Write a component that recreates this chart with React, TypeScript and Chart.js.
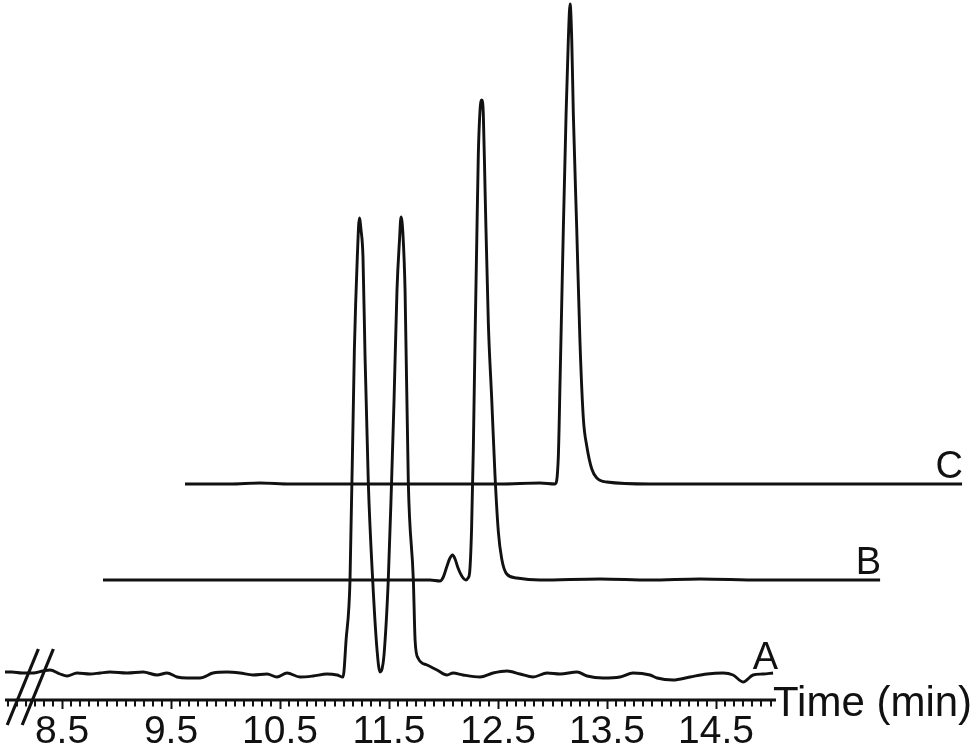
import React, { useEffect, useRef } from 'react';
import { Chart, registerables } from 'chart.js';

Chart.register(...registerables);

// ---- data (time in min, detector signal in arbitrary units) ----
const TRACE_NAMES = ['A', 'B', 'C'];

const TRACE_A: [number, number][] = [
  [7.977, 3], [8.041, 3], [8.133, 2], [8.234, 2], [8.326, 4], [8.39, 5], [8.482, 1], [8.546, -1],
  [8.638, 2], [8.757, 1], [8.849, 2], [8.94, 3], [9.096, 2], [9.243, 3], [9.372, 0], [9.463, 2],
  [9.555, -2], [9.647, -3], [9.766, -3], [9.885, 2], [10.014, 3], [10.133, 2], [10.252, 0],
  [10.381, 1], [10.472, -2], [10.564, 2], [10.683, -2], [10.803, -1], [10.931, 1], [11.023, 0],
  [11.078, -2], [11.106, 35], [11.142, 95], [11.182, 325], [11.209, 418], [11.228, 457],
  [11.243, 445], [11.261, 418], [11.28, 318], [11.31, 192], [11.35, 95], [11.39, 25], [11.417, 3],
  [11.436, 6], [11.454, 20], [11.493, 95], [11.523, 192], [11.546, 275], [11.573, 385],
  [11.596, 435], [11.61, 458], [11.628, 440], [11.647, 385], [11.677, 192], [11.723, 95],
  [11.739, 35], [11.766, 17], [11.849, 10], [11.94, 5], [12.032, 0], [12.087, 2], [12.179, 0],
  [12.335, -2], [12.454, 2], [12.583, 4], [12.702, 1], [12.821, -2], [12.95, 2], [13.069, 1],
  [13.225, 3], [13.317, -1], [13.463, -3], [13.619, -2], [13.739, 2], [13.894, 0], [13.959, -3],
  [14.106, -5], [14.261, -2], [14.417, 1], [14.564, 2], [14.656, 0], [14.748, -7], [14.839, 0],
  [14.931, 1], [15.023, 2],
];

const TRACE_B: [number, number][] = [
  [8.876, 0], [9.5, 0], [10.2, 0], [10.9, 0], [11.5, 0], [11.876, 0], [11.968, -1], [11.998, 3],
  [12.029, 13], [12.055, 21], [12.083, 25], [12.106, 21], [12.133, 12], [12.167, 4], [12.206, 0],
  [12.225, 2], [12.239, 7], [12.257, 50], [12.273, 130], [12.289, 240], [12.305, 340],
  [12.319, 425], [12.335, 470], [12.35, 480], [12.365, 466], [12.381, 390], [12.411, 257],
  [12.442, 181], [12.472, 105], [12.503, 48], [12.534, 21], [12.58, 6], [12.672, 2], [12.885, 0],
  [13.436, 1], [13.894, 0], [14.353, 1], [14.904, 0], [15.454, 0], [16.005, 0],
];

const TRACE_C: [number, number][] = [
  [9.628, 0], [10.041, 0], [10.317, 1], [10.592, 0], [11.142, 0], [11.784, 0], [12.518, 0],
  [12.885, 1], [13.023, 0], [13.053, 27], [13.069, 103], [13.084, 179], [13.099, 255],
  [13.124, 369], [13.145, 445], [13.161, 480], [13.176, 445], [13.191, 369], [13.222, 255],
  [13.252, 141], [13.283, 65], [13.314, 38], [13.36, 15], [13.406, 6], [13.498, 2], [13.894, 0],
  [14.812, 0], [15.729, 0], [16.757, 0],
];

// vertical stacking offsets of the three chromatograms
const TRACE_OFFSETS = [25, 120, 216];

const TICK_VALUES = [8.5, 9.5, 10.5, 11.5, 12.5, 13.5, 14.5];
const TICK_LABELS = ['8.5', '9.5', '10.5', '11.5', '12.5', '13.5', '14.5'];
const AXIS_TITLE = 'Time (min)';

// ---- layout / style ----
const X_MIN = 7.931;
const X_MAX = 16.894;
const Y_MIN = 0;
const Y_MAX = 700;
const AXIS_START = 7.977;
const AXIS_END = 15.05;
const MINOR_FIRST = 8.0;
const MINOR_LAST = 15.0;
const MINOR_PER_MIN = 12;
const BREAK_AT = 8.16;
const INK = '#111111';
const FONT = '"Liberation Sans", Arial, Helvetica, sans-serif';

const decorPlugin = {
  id: 'decor',
  afterDraw(chart: any) {
    const { ctx, chartArea, scales } = chart;
    const xs = scales.x;
    const ys = scales.y;
    const y0 = chartArea.bottom;
    ctx.save();
    ctx.strokeStyle = INK;
    ctx.fillStyle = INK;
    ctx.lineCap = 'butt';

    // axis line
    const xa = xs.getPixelForValue(AXIS_START);
    const xb = xs.getPixelForValue(AXIS_END);
    ctx.lineWidth = 2.8;
    ctx.beginPath();
    ctx.moveTo(xa, y0);
    ctx.lineTo(xb, y0);
    ctx.stroke();

    // minor ticks
    ctx.lineWidth = 2;
    const n = Math.round((MINOR_LAST - MINOR_FIRST) * MINOR_PER_MIN);
    for (let i = 0; i <= n; i++) {
      const t = MINOR_FIRST + i / MINOR_PER_MIN;
      if (TICK_VALUES.some((v) => Math.abs(v - t) < 1e-6)) continue;
      const px = Math.round(xs.getPixelForValue(t));
      ctx.beginPath();
      ctx.moveTo(px, y0);
      ctx.lineTo(px, y0 + 6.5);
      ctx.stroke();
    }

    // axis break marks "//"
    const bx = xs.getPixelForValue(BREAK_AT);
    ctx.lineWidth = 3.2;
    [-7.5, 7.5].forEach((d) => {
      const xc = bx + d;
      ctx.beginPath();
      ctx.moveTo(xc + 0.41 * 51, y0 - 51);
      ctx.lineTo(xc - 0.41 * 25, y0 + 25);
      ctx.stroke();
    });

    // trace labels
    ctx.font = `38px ${FONT}`;
    ctx.textAlign = 'right';
    ctx.textBaseline = 'alphabetic';
    [TRACE_A, TRACE_B, TRACE_C].forEach((tr, i) => {
      const last = tr[tr.length - 1];
      const px = xs.getPixelForValue(last[0]);
      const py = ys.getPixelForValue(TRACE_OFFSETS[i]);
      ctx.fillText(TRACE_NAMES[i], px + (i === 0 ? 5 : 1), py - 6);
    });

    // axis title
    ctx.font = `42px ${FONT}`;
    ctx.textAlign = 'left';
    ctx.fillText(AXIS_TITLE, xb - 3, y0 + 16);
    ctx.restore();
  },
};

export default function App() {
  const ref = useRef<HTMLCanvasElement | null>(null);

  useEffect(() => {
    if (!ref.current) return;
    const traces = [TRACE_A, TRACE_B, TRACE_C];
    const chart = new Chart(ref.current, {
      type: 'line',
      data: {
        datasets: traces.map((tr, i) => ({
          label: TRACE_NAMES[i],
          data: tr.map(([t, s]) => ({ x: t, y: s + TRACE_OFFSETS[i] })),
          borderColor: INK,
          borderWidth: 2.9,
          pointRadius: 0,
          fill: false,
          cubicInterpolationMode: 'monotone' as const,
          order: 3 - i,
        })),
      },
      options: {
        responsive: false,
        devicePixelRatio: 1,
        animation: false,
        events: [],
        layout: { padding: 0 },
        plugins: { legend: { display: false }, tooltip: { enabled: false } },
        scales: {
          x: {
            type: 'linear',
            position: 'bottom',
            min: X_MIN,
            max: X_MAX,
            border: { display: false },
            grid: {
              drawOnChartArea: false,
              drawTicks: true,
              tickLength: 9,
              tickWidth: 2,
              tickColor: INK,
            },
            ticks: {
              autoSkip: false,
              maxRotation: 0,
              minRotation: 0,
              padding: 0,
              color: INK,
              font: { family: FONT, size: 39 },
              callback: (_v: any, idx: number) => TICK_LABELS[idx],
            },
            afterBuildTicks: (scale: any) => {
              scale.ticks = TICK_VALUES.map((v) => ({ value: v }));
            },
            afterFit: (scale: any) => {
              scale.height = 47;
            },
          },
          y: { display: false, min: Y_MIN, max: Y_MAX },
        },
      },
      plugins: [decorPlugin],
    });
    return () => chart.destroy();
  }, []);

  return (
    <div style={{ position: 'fixed', left: 0, top: 0, width: 977, height: 747, background: '#fff' }}>
      <canvas ref={ref} width={977} height={747} style={{ display: 'block' }} />
    </div>
  );
}
